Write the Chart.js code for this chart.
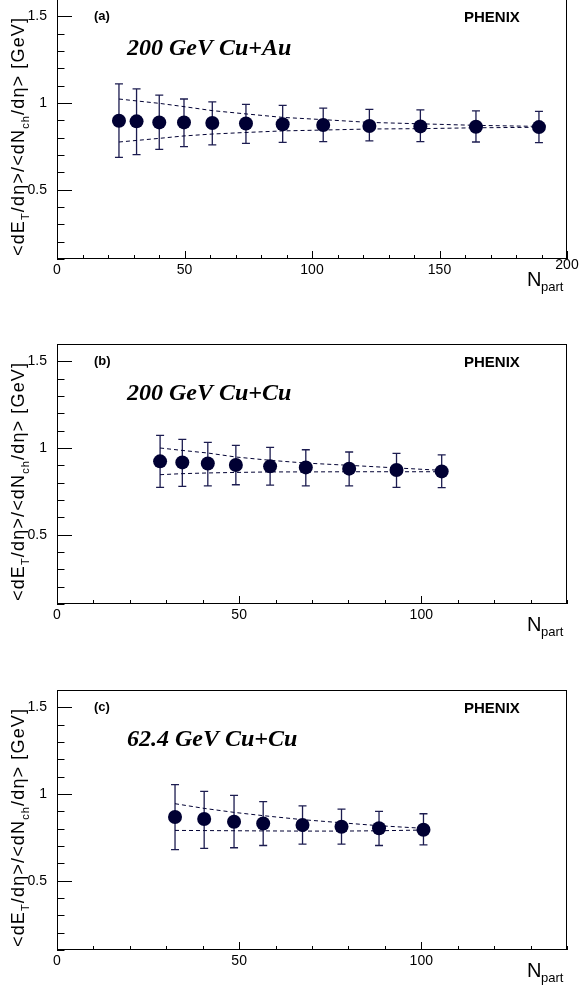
<!DOCTYPE html>
<html>
<head>
<meta charset="utf-8">
<script src="https://cdn.jsdelivr.net/npm/chart.js@4.4.0/dist/chart.umd.min.js"></script>
<style>
  body { margin: 0; background: #fff; width: 580px; height: 989px; position: relative; overflow: hidden; }
  .panel { position: absolute; left: 0; width: 580px; height: 330px; }
</style>
</head>
<body>
<div class="panel" style="top:-1px"><canvas id="chartA" width="580" height="330"></canvas></div>
<div class="panel" style="top:344px"><canvas id="chartB" width="580" height="330"></canvas></div>
<div class="panel" style="top:690px"><canvas id="chartC" width="580" height="330"></canvas></div>

<script>
// (a) 200 GeV Cu+Au
const nPartCuAu   = [24.3, 31.2, 40.1, 49.8, 60.9, 74.1, 88.5, 104.4, 122.5, 142.5, 164.3, 189];
const etNchCuAu   = [0.898, 0.894, 0.888, 0.888, 0.885, 0.882, 0.877, 0.873, 0.867, 0.865, 0.863, 0.861];
const errHiCuAu   = [1.110, 1.081, 1.046, 1.023, 1.007, 0.992, 0.986, 0.971, 0.963, 0.960, 0.954, 0.952];
const errLoCuAu   = [0.686, 0.702, 0.732, 0.748, 0.758, 0.767, 0.773, 0.777, 0.781, 0.777, 0.775, 0.771];
const bandHiCuAu  = [1.023, 1.012, 0.998, 0.979, 0.956, 0.937, 0.917, 0.904, 0.888, 0.880, 0.871, 0.865];
const bandLoCuAu  = [0.775, 0.784, 0.796, 0.810, 0.821, 0.830, 0.839, 0.844, 0.850, 0.852, 0.857, 0.860];

// (b) 200 GeV Cu+Cu
const nPartCuCu200  = [28.3, 34.4, 41.4, 49.1, 58.5, 68.3, 80.2, 93.2, 105.6];
const etNchCuCu200  = [0.923, 0.917, 0.911, 0.902, 0.894, 0.888, 0.881, 0.873, 0.865];
const errHiCuCu200  = [1.073, 1.050, 1.032, 1.015, 1.004, 0.990, 0.977, 0.969, 0.960];
const errLoCuCu200  = [0.773, 0.779, 0.782, 0.788, 0.786, 0.782, 0.782, 0.773, 0.771];
const bandHiCuCu200 = [1.000, 0.986, 0.971, 0.948, 0.929, 0.913, 0.900, 0.885, 0.871];
const bandLoCuCu200 = [0.846, 0.852, 0.856, 0.859, 0.862, 0.862, 0.863, 0.863, 0.863];

// (c) 62.4 GeV Cu+Cu
const nPartCuCu62  = [32.4, 40.4, 48.6, 56.6, 67.4, 78.1, 88.4, 100.6];
const etNchCuCu62  = [0.867, 0.856, 0.840, 0.830, 0.821, 0.811, 0.802, 0.794];
const errHiCuCu62  = [1.054, 1.015, 0.992, 0.956, 0.932, 0.913, 0.900, 0.886];
const errLoCuCu62  = [0.679, 0.686, 0.690, 0.703, 0.711, 0.711, 0.703, 0.706];
const bandHiCuCu62 = [0.944, 0.917, 0.894, 0.875, 0.852, 0.834, 0.817, 0.802];
const bandLoCuCu62 = [0.790, 0.789, 0.788, 0.787, 0.786, 0.786, 0.788, 0.792];

const yTicks = [0.5, 1, 1.5];
const yTickLabels = ['0.5', '1', '1.5'];
const xTicksWide = [0, 50, 100, 150, 200];
const xTicksNarrow = [0, 50, 100];

const navy = '#000033';
const barColor = '#1c1c50';
const sans = '"Liberation Sans", Arial, Helvetica, sans-serif';
const serif = '"Liberation Serif", "Times New Roman", serif';

// ROOT-like frame, inward ticks, error bars and labels
const rootStyle = {
  id: 'rootStyle',
  beforeDatasetsDraw(chart) {
    const ctx = chart.ctx, x = chart.scales.x, y = chart.scales.y;
    const o = chart.options.plugins.rootStyle;
    ctx.save();
    ctx.strokeStyle = barColor;
    ctx.lineWidth = 1.3;
    o.n.forEach((n, i) => {
      const px = x.getPixelForValue(n);
      const top = y.getPixelForValue(o.hi[i]);
      const bot = y.getPixelForValue(o.lo[i]);
      ctx.beginPath();
      ctx.moveTo(px, top); ctx.lineTo(px, bot);
      ctx.moveTo(px - 4, top); ctx.lineTo(px + 4, top);
      ctx.moveTo(px - 4, bot); ctx.lineTo(px + 4, bot);
      ctx.stroke();
    });
    ctx.restore();
  },
  afterDraw(chart) {
    const ctx = chart.ctx, a = chart.chartArea, x = chart.scales.x, y = chart.scales.y;
    const o = chart.options.plugins.rootStyle;
    ctx.save();
    ctx.strokeStyle = '#000';
    ctx.lineWidth = 1;
    ctx.strokeRect(Math.round(a.left) + 0.5, Math.round(a.top) + 0.5,
                   Math.round(a.right - a.left) - 1, Math.round(a.bottom - a.top) - 1);
    ctx.beginPath();
    for (let v = 0.1; v <= 1.6001; v += 0.1) {
      const py = Math.round(y.getPixelForValue(v)) + 0.5;
      const major = Math.abs(v * 2 - Math.round(v * 2)) < 1e-6;
      ctx.moveTo(a.left, py); ctx.lineTo(a.left + (major ? 15 : 7.5), py);
    }
    for (let v = 0; v <= o.xMax + 0.001; v += 10) {
      const px = Math.round(x.getPixelForValue(v)) + 0.5;
      const major = v % 50 === 0;
      ctx.moveTo(px, a.bottom); ctx.lineTo(px, a.bottom - (major ? 8 : 4));
    }
    ctx.stroke();

    ctx.fillStyle = '#000';
    ctx.textBaseline = 'alphabetic';
    ctx.textAlign = 'left';
    ctx.font = 'bold 13px ' + sans;
    ctx.fillText(o.tag, a.left + 37, a.top + 21);
    ctx.font = 'bold 15px ' + sans;
    ctx.fillText('PHENIX', a.left + 407, a.top + 23);
    ctx.font = 'italic bold 24px ' + serif;
    ctx.fillText(o.system, a.left + 70, a.top + 56);

    // x title N_part
    ctx.font = '20px ' + sans;
    ctx.fillText('N', a.right - 40, a.bottom + 27);
    ctx.font = '13px ' + sans;
    ctx.fillText('part', a.right - 26, a.bottom + 32);

    if (o.raisedLast) {
      ctx.font = '14px ' + sans;
      ctx.textAlign = 'center';
      ctx.fillText(String(o.xMax), x.getPixelForValue(o.xMax), a.bottom + 10);
    }

    // y title with subscripts, spread to the reference length
    const parts = [
      ['<dE', 18, 0], ['T', 11, 5], ['/d\u03b7>/<dN', 18, 0], ['ch', 11, 5], ['/d\u03b7> [GeV]', 18, 0]
    ];
    const targetLen = 238;
    let total = 0, count = 0;
    parts.forEach(p => {
      ctx.font = p[1] + 'px ' + sans;
      total += ctx.measureText(p[0]).width;
      count += p[0].length;
    });
    const gap = (targetLen - total) / (count - 1);
    ctx.translate(24, (a.top + a.bottom) / 2 + 8);
    ctx.rotate(-Math.PI / 2);
    ctx.textAlign = 'left';
    let cx = -targetLen / 2;
    parts.forEach(p => {
      ctx.font = p[1] + 'px ' + sans;
      for (const ch of p[0]) {
        ctx.fillText(ch, cx, p[2]);
        cx += ctx.measureText(ch).width + gap;
      }
    });
    ctx.restore();
  }
};

function makePanel(id, n, vals, hi, lo, bHi, bLo, xMax, xTicks, tag, system, raisedLast) {
  const pts = n.map((v, i) => ({ x: v, y: vals[i] }));
  const bandHi = n.map((v, i) => ({ x: v, y: bHi[i] }));
  const bandLo = n.map((v, i) => ({ x: v, y: bLo[i] }));
  const band = {
    type: 'line', showLine: true, borderColor: navy, borderWidth: 1,
    borderDash: [4, 3], pointRadius: 0, fill: false, tension: 0
  };
  return new Chart(document.getElementById(id), {
    type: 'scatter',
    data: {
      datasets: [
        { data: pts, pointRadius: 7, pointBackgroundColor: navy, pointBorderColor: navy, pointBorderWidth: 0 },
        Object.assign({ data: bandHi }, band),
        Object.assign({ data: bandLo }, band)
      ]
    },
    options: {
      responsive: false,
      animation: false,
      events: [],
      layout: { autoPadding: false, padding: { left: 0, right: 13, top: 0, bottom: 0 } },
      plugins: {
        legend: { display: false },
        tooltip: { enabled: false },
        rootStyle: { n, hi, lo, xMax, tag, system, raisedLast }
      },
      scales: {
        x: {
          type: 'linear', min: 0, max: xMax,
          grid: { display: false, drawTicks: false }, border: { display: false },
          afterBuildTicks: s => { s.ticks = xTicks.map(v => ({ value: v })); },
          afterFit: s => { s.height = 70; s.paddingLeft = 0; s.paddingRight = 0; },
          ticks: {
            autoSkip: false, maxRotation: 0, padding: 3, color: '#000',
            font: { family: sans, size: 14 },
            callback: v => (raisedLast && v === xMax) ? '' : String(v)
          }
        },
        y: {
          type: 'linear', min: 0.1, max: 1.6,
          grid: { display: false, drawTicks: false }, border: { display: false },
          afterBuildTicks: s => { s.ticks = yTicks.map(v => ({ value: v })); },
          afterFit: s => { s.width = 57; s.paddingTop = 0; s.paddingBottom = 0; },
          ticks: {
            padding: 10, color: '#000',
            font: { family: sans, size: 14 },
            callback: v => yTickLabels[yTicks.indexOf(v)]
          }
        }
      }
    },
    plugins: [rootStyle]
  });
}

makePanel('chartA', nPartCuAu, etNchCuAu, errHiCuAu, errLoCuAu, bandHiCuAu, bandLoCuAu,
          200, xTicksWide, '(a)', '200 GeV Cu+Au', true);
makePanel('chartB', nPartCuCu200, etNchCuCu200, errHiCuCu200, errLoCuCu200, bandHiCuCu200, bandLoCuCu200,
          140, xTicksNarrow, '(b)', '200 GeV Cu+Cu', false);
makePanel('chartC', nPartCuCu62, etNchCuCu62, errHiCuCu62, errLoCuCu62, bandHiCuCu62, bandLoCuCu62,
          140, xTicksNarrow, '(c)', '62.4 GeV Cu+Cu', false);
</script>
</body>
</html>
